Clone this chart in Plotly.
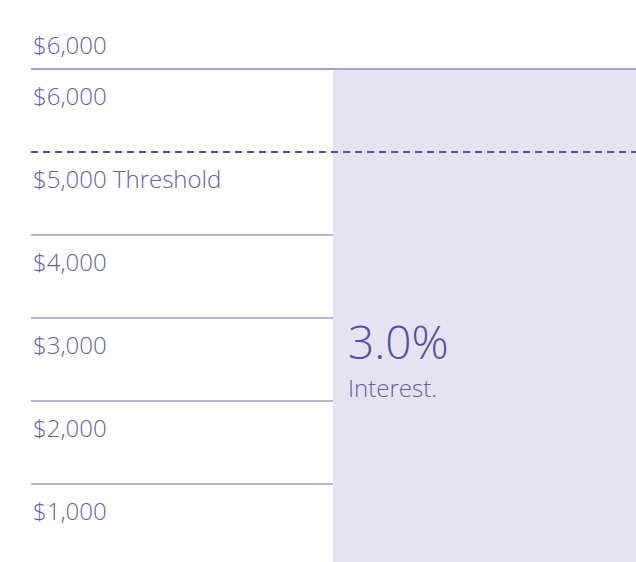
import plotly.graph_objects as go

# Values
balance = 6000
threshold = 5000
rate_label = "3.0%"
rate_caption = "Interest."
gridlines = [1000, 2000, 3000, 4000]
row_labels = ["$1,000", "$2,000", "$3,000", "$4,000", "$5,000 Threshold", "$6,000"]
row_values = [1000, 2000, 3000, 4000, 5000, 6000]
balance_label = "$6,000"

TEXT = "#655ea6"
DARK = "#574f9e"
FONT = "Open Sans"

W, H = 636, 562
x_left = 31 / W          # left edge of the rule lines
x_bar = 333 / W          # left edge of the bar
bar_width = 0.6

fig = go.Figure()
fig.add_trace(go.Bar(
    x=[x_bar + bar_width / 2], y=[balance], width=[bar_width],
    marker=dict(color="#e5e3ef", line=dict(width=0)),
    hoverinfo="skip", showlegend=False,
))

shapes = []
for v in gridlines:
    shapes.append(dict(type="line", xref="x", yref="y", x0=x_left, x1=x_bar,
                       y0=v, y1=v, line=dict(color="#7169ad", width=1), layer="above"))
shapes.append(dict(type="line", xref="x", yref="y", x0=x_left, x1=1.0,
                   y0=balance, y1=balance, line=dict(color="#a9a3cc", width=2), layer="above"))
shapes.append(dict(type="line", xref="x", yref="y", x0=x_left, x1=1.0,
                   y0=threshold, y1=threshold,
                   line=dict(color=DARK, width=2, dash="7px,5px"), layer="above"))

label_font = dict(family=FONT, size=24, color=TEXT, weight=300)
annotations = []
for lab, v in zip(row_labels, row_values):
    annotations.append(dict(x=x_left, y=v, xref="x", yref="y", text=lab,
                            showarrow=False, xanchor="left", yanchor="middle",
                            yshift=-27, font=label_font))
annotations.append(dict(x=x_left, y=balance, xref="x", yref="y", text=balance_label,
                        showarrow=False, xanchor="left", yanchor="middle",
                        yshift=24, font=label_font))
annotations.append(dict(x=346 / W, y=3000, xref="x", yref="y", text=rate_label,
                        showarrow=False, xanchor="left", yanchor="middle",
                        yshift=-23, font=dict(family=FONT, size=46, color=DARK, weight=300)))
annotations.append(dict(x=346 / W, y=3000, xref="x", yref="y", text=rate_caption,
                        showarrow=False, xanchor="left", yanchor="middle",
                        yshift=-70, font=dict(family=FONT, size=24, color=TEXT, weight=300)))

fig.update_layout(
    width=W, height=H, margin=dict(l=0, r=0, t=0, b=0),
    paper_bgcolor="white", plot_bgcolor="white",
    xaxis=dict(range=[0, 1], visible=False, fixedrange=True),
    yaxis=dict(range=[60.2, 6831], visible=False, fixedrange=True),
    shapes=shapes, annotations=annotations, bargap=0,
)

fig.write_html("out.html")
